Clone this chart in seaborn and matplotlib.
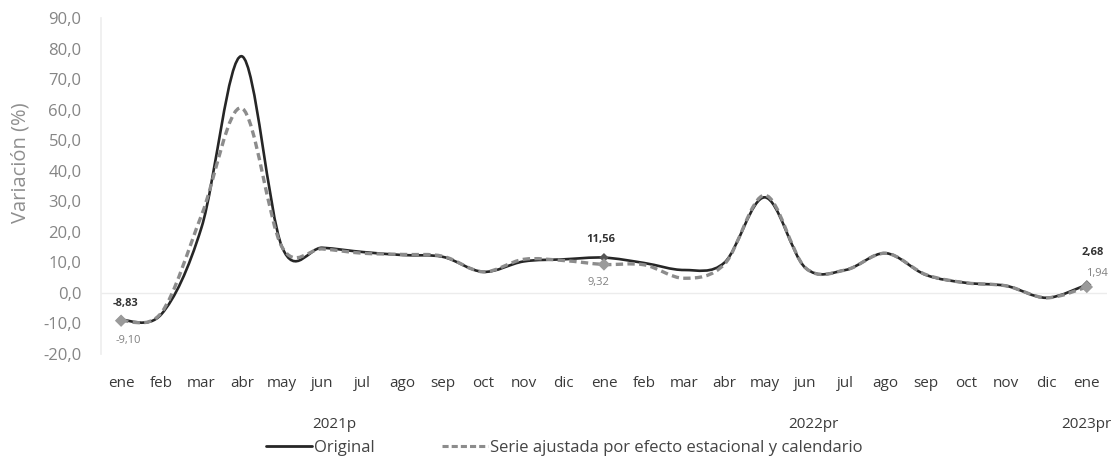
import numpy as np
import pandas as pd
import matplotlib
matplotlib.use("Agg")
import matplotlib.pyplot as plt
import matplotlib.transforms as mtransforms
from matplotlib.path import Path
from matplotlib.patches import PathPatch
from matplotlib.lines import Line2D
import seaborn as sns

# data
months = ["ene", "feb", "mar", "abr", "may", "jun", "jul", "ago", "sep", "oct", "nov", "dic",
          "ene", "feb", "mar", "abr", "may", "jun", "jul", "ago", "sep", "oct", "nov", "dic",
          "ene"]
original = [-8.83, -7.0, 21.5, 77.5, 15.0, 14.8, 13.4, 12.4, 11.8, 6.9, 10.3, 11.0,
            11.56, 9.8, 7.5, 10.0, 31.3, 8.3, 7.5, 13.0, 5.9, 3.3, 2.3, -1.6,
            2.68]
ajustada = [-9.10, -6.5, 25.5, 60.5, 15.0, 14.4, 13.0, 12.6, 12.0, 6.9, 11.0, 10.6,
            9.32, 9.2, 4.8, 9.5, 32.0, 8.3, 7.5, 13.0, 6.0, 3.3, 2.3, -1.6,
            1.94]
years = ["2021p", "2022pr", "2023pr"]
year_pos = [5.3, 17.2, 24.0]
labelled = [0, 12, 24]

x = np.arange(len(months))
df = pd.DataFrame({"x": x, "Original": original, "Ajustada": ajustada})

sns.set_theme(style="white")
plt.rcParams["font.family"] = ["Open Sans", "DejaVu Sans"]


def fmt(v):
    return f"{v:.2f}".replace(".", ",")


def smooth_path(xs, ys):
    # cubic bezier through every point, like the "smoothed line" of a spreadsheet
    pts = np.column_stack([xs, ys]).astype(float)
    n = len(pts)
    verts = [pts[0]]
    codes = [Path.MOVETO]
    for i in range(n - 1):
        p0 = pts[max(i - 1, 0)]
        p1 = pts[i]
        p2 = pts[i + 1]
        p3 = pts[min(i + 2, n - 1)]
        verts += [p1 + (p2 - p0) / 6, p2 - (p3 - p1) / 6, p2]
        codes += [Path.CURVE4] * 3
    return Path(verts, codes)


fig = plt.figure(figsize=(11.17, 4.62), dpi=100)
ax = fig.add_axes([0.0904, 0.2338, 0.9006, 0.727])

c_orig = "#262626"
c_adj = "#8c8c8c"

ax.add_patch(PathPatch(smooth_path(df["x"], df["Original"]), fill=False,
                       edgecolor=c_orig, lw=1.9, zorder=3))
ax.add_patch(PathPatch(smooth_path(df["x"], df["Ajustada"]), fill=False,
                       edgecolor=c_adj, lw=2.4, linestyle=(0, (2.2, 1.3)), zorder=4))

pts = df.iloc[labelled]
sns.scatterplot(x="x", y="Original", data=pts, ax=ax, marker="D", s=22,
                color="#555555", edgecolor="none", zorder=5, legend=False)
sns.scatterplot(x="x", y="Ajustada", data=pts, ax=ax, marker="D", s=40,
                color="#9a9a9a", edgecolor="none", zorder=6, legend=False)

# data labels
orig_off = [(3, 12), (-2, 13), (4, 23)]
adj_off = [(5, -14), (-4, -13), (7, 10)]
for i, oo, ao in zip(labelled, orig_off, adj_off):
    ax.annotate(fmt(original[i]), (i, original[i]), xytext=oo, textcoords="offset points",
                ha="center", va="center", fontsize=8, fontweight="bold", color="#333333")
    ax.annotate(fmt(ajustada[i]), (i, ajustada[i]), xytext=ao, textcoords="offset points",
                ha="center", va="center", fontsize=8, color="#808080")

ax.axhline(0, color="#ececec", lw=1, zorder=1)

ax.set_xlim(-0.5, len(months) - 0.5)
ax.set_ylim(-20, 90)
ax.set_yticks(np.arange(-20, 91, 10))
ax.set_yticklabels([f"{v:.1f}".replace(".", ",") for v in np.arange(-20, 91, 10)])
ax.set_xticks(x)
ax.set_xticklabels(months)
ax.tick_params(axis="x", length=0, pad=16, labelsize=11, labelcolor="#3a3a3a")
ax.tick_params(axis="y", length=0, pad=14, labelsize=12, labelcolor="#858585")
ax.set_xlabel("")
ax.set_ylabel("")
for s in ["top", "right", "bottom"]:
    ax.spines[s].set_visible(False)
ax.spines["left"].set_color("#eeeeee")

fig.text(21 / 1117, 1 - 163 / 462, "Variación (%)", rotation=90, ha="center", va="center",
         fontsize=14.5, color="#8f8f8f")

trans = mtransforms.blended_transform_factory(ax.transData, ax.transAxes)
for yr, pos in zip(years, year_pos):
    ax.text(pos, -0.211, yr, transform=trans, ha="center", va="center",
            fontsize=11, color="#3a3a3a")

handles = [Line2D([], [], color=c_orig, lw=2),
           Line2D([], [], color=c_adj, lw=2.2, linestyle=(0, (2.0, 1.0)))]
fig.legend(handles, ["Original", "Serie ajustada por efecto estacional y calendario"],
           loc="center", bbox_to_anchor=(0.505, 1 - 448 / 462), ncol=2, frameon=False,
           fontsize=12, handlelength=2.8, handletextpad=0.1, columnspacing=4.0,
           labelcolor="#444444")

fig.savefig("out.png", dpi=100)
